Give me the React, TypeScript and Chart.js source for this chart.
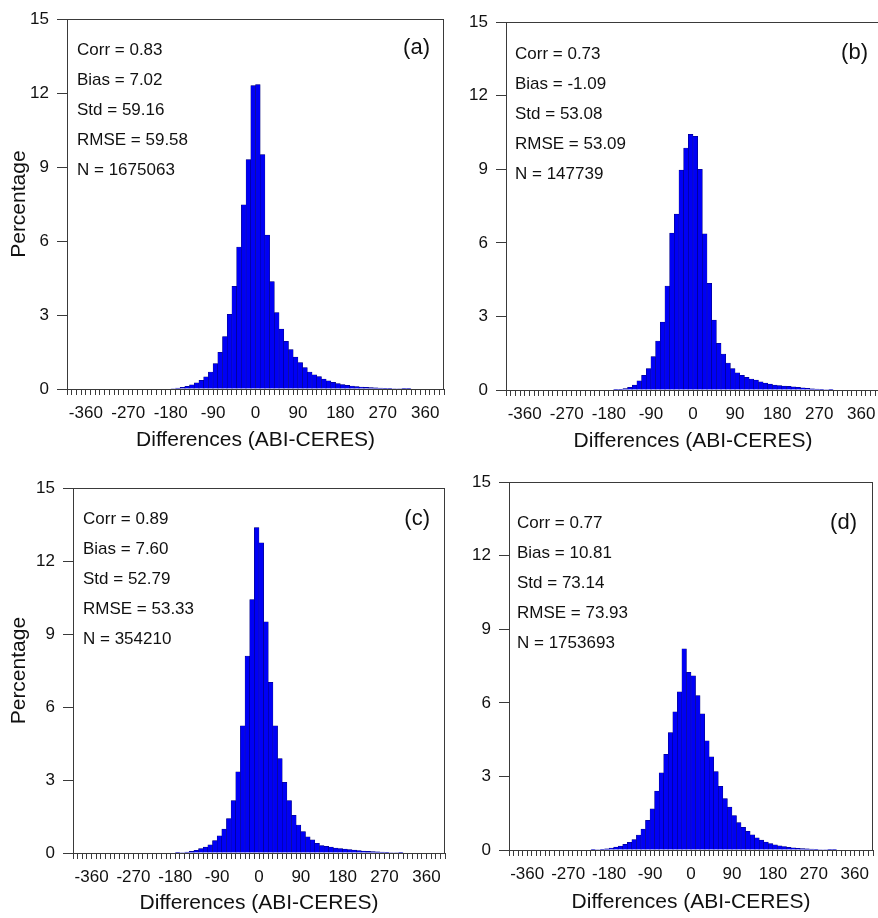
import { useEffect, useRef } from "react";
import { Chart, registerables } from "chart.js";

Chart.register(...registerables);

const FONT = "'Liberation Sans', Arial, Helvetica, sans-serif";
const AXIS_COLOR = "#3a3a3a";
const TEXT_COLOR = "#111111";

// Histogram bins: 10-unit wide, centred on ..., -15, -5, 5, 15, ...
const BIN_CENTERS = [
  -395, -385, -375, -365, -355, -345, -335, -325, -315, -305,
  -295, -285, -275, -265, -255, -245, -235, -225, -215, -205,
  -195, -185, -175, -165, -155, -145, -135, -125, -115, -105,
  -95, -85, -75, -65, -55, -45, -35, -25, -15, -5,
  5, 15, 25, 35, 45, 55, 65, 75, 85, 95,
  105, 115, 125, 135, 145, 155, 165, 175, 185, 195,
  205, 215, 225, 235, 245, 255, 265, 275, 285, 295,
  305, 315, 325, 335, 345, 355, 365, 375, 385, 395,
];

const X_TICK_LABELS = [-360, -270, -180, -90, 0, 90, 180, 270, 360];

// Percentage of samples per bin
const PCT_A = [
  0, 0, 0, 0, 0, 0, 0, 0, 0, 0,
  0, 0, 0, 0, 0, 0, 0, 0, 0, 0,
  0, 0, 0.02, 0.04, 0.07, 0.11, 0.17, 0.25, 0.35, 0.49,
  0.69, 1.03, 1.49, 2.13, 3.03, 4.16, 5.76, 7.47, 9.31, 12.31,
  12.35, 9.51, 6.24, 4.36, 3.1, 2.43, 1.93, 1.6, 1.29, 1.07,
  0.87, 0.69, 0.57, 0.5, 0.4, 0.33, 0.27, 0.22, 0.18, 0.15,
  0.12, 0.1, 0.08, 0.07, 0.06, 0.05, 0.04, 0.03, 0.03, 0.02,
  0.02, 0.01, 0.01, 0, 0, 0, 0, 0, 0, 0,
];

const PCT_B = [
  0, 0, 0, 0, 0, 0, 0, 0, 0, 0,
  0, 0, 0, 0, 0, 0, 0, 0, 0, 0,
  0, 0, 0, 0.01, 0.03, 0.06, 0.11, 0.2, 0.37, 0.6,
  0.87, 1.36, 2.0, 2.77, 4.24, 6.4, 7.17, 8.97, 9.87, 10.43,
  10.35, 9.0, 6.37, 4.35, 2.85, 1.9, 1.47, 1.1, 0.87, 0.7,
  0.6, 0.52, 0.45, 0.4, 0.33, 0.28, 0.24, 0.2, 0.18, 0.16,
  0.15, 0.13, 0.11, 0.09, 0.07, 0.05, 0.04, 0.03, 0.02, 0.01,
  0, 0, 0, 0, 0, 0, 0, 0, 0, 0,
];

const PCT_C = [
  0, 0, 0, 0, 0, 0, 0, 0, 0, 0,
  0, 0, 0, 0, 0, 0, 0, 0, 0, 0,
  0, 0, 0.01, 0.02, 0.04, 0.07, 0.11, 0.18, 0.24, 0.34,
  0.51, 0.71, 0.98, 1.42, 2.16, 3.34, 5.23, 8.1, 10.42, 13.38,
  12.75, 9.51, 7.02, 5.23, 3.88, 2.91, 2.16, 1.55, 1.15, 0.88,
  0.67, 0.54, 0.4, 0.31, 0.27, 0.24, 0.2, 0.18, 0.16, 0.14,
  0.12, 0.1, 0.08, 0.07, 0.06, 0.05, 0.04, 0.03, 0.02, 0.02,
  0.01, 0, 0, 0, 0, 0, 0, 0, 0, 0,
];

const PCT_D = [
  0, 0, 0, 0, 0, 0, 0, 0, 0, 0,
  0, 0, 0, 0, 0, 0, 0, 0, 0.01, 0.02,
  0.03, 0.05, 0.08, 0.12, 0.16, 0.23, 0.31, 0.43, 0.61, 0.85,
  1.21, 1.68, 2.4, 3.15, 3.9, 4.79, 5.64, 6.45, 8.2, 7.25,
  7.1, 6.3, 5.55, 4.45, 3.8, 3.2, 2.6, 2.1, 1.75, 1.4,
  1.12, 0.92, 0.76, 0.62, 0.5, 0.4, 0.32, 0.26, 0.21, 0.17,
  0.14, 0.11, 0.09, 0.07, 0.06, 0.05, 0.04, 0.03, 0.02, 0.02,
  0.01, 0.01, 0, 0, 0, 0, 0, 0, 0, 0,
];

const STATS_A = ["Corr = 0.83", "Bias = 7.02", "Std = 59.16", "RMSE = 59.58", "N = 1675063"];
const STATS_B = ["Corr = 0.73", "Bias = -1.09", "Std = 53.08", "RMSE = 53.09", "N = 147739"];
const STATS_C = ["Corr = 0.89", "Bias = 7.60", "Std = 52.79", "RMSE = 53.33", "N = 354210"];
const STATS_D = ["Corr = 0.77", "Bias = 10.81", "Std = 73.14", "RMSE = 73.93", "N = 1753693"];

type Layout = {
  plot: { l: number; t: number; r: number; b: number };
  canvasLeft: number;
  xTitleOff: number;
  yTitle: boolean;
  statDx: number;
  statDy: number;
  tagDx: number;
  tagDy: number;
};

type Panel = { tag: string; values: number[]; stats: string[]; layout: Layout };

const PANELS: Panel[] = [
  {
    tag: "(a)",
    values: PCT_A,
    stats: STATS_A,
    layout: { plot: { l: 67, t: 13, r: 444, b: 389 }, canvasLeft: 0, xTitleOff: 51, yTitle: true, statDx: 10, statDy: 31, tagDx: 14, tagDy: 29 },
  },
  {
    tag: "(b)",
    values: PCT_B,
    stats: STATS_B,
    layout: { plot: { l: 506, t: 16, r: 880, b: 390 }, canvasLeft: 446, xTitleOff: 51, yTitle: false, statDx: 9, statDy: 32, tagDx: 12, tagDy: 31 },
  },
  {
    tag: "(c)",
    values: PCT_C,
    stats: STATS_C,
    layout: { plot: { l: 73, t: 482, r: 445, b: 853 }, canvasLeft: 0, xTitleOff: 50, yTitle: true, statDx: 10, statDy: 31, tagDx: 15, tagDy: 31 },
  },
  {
    tag: "(d)",
    values: PCT_D,
    stats: STATS_D,
    layout: { plot: { l: 509, t: 476, r: 873, b: 850 }, canvasLeft: 449, xTitleOff: 52, yTitle: false, statDx: 8, statDy: 41, tagDx: 16, tagDy: 41 },
  },
];

const PAD_TOP = 12;
const PAD_RIGHT = 8;
const TICK_FONT = 17;
const TITLE_FONT = 21;

function Histogram({ panel }: { panel: Panel }) {
  const ref = useRef<HTMLCanvasElement>(null);
  const { plot, canvasLeft, xTitleOff, yTitle, statDx, statDy, tagDx, tagDy } = panel.layout;
  const yAxisWidth = plot.l - canvasLeft;
  const xAxisHeight = xTitleOff + 15;
  const width = yAxisWidth + (plot.r - plot.l) + PAD_RIGHT;
  const height = PAD_TOP + (plot.b - plot.t) + xAxisHeight;
  const titleHalf = (TITLE_FONT * 1.2) / 2;

  useEffect(() => {
    const canvas = ref.current;
    if (!canvas) return;

    const frame = {
      id: "frame",
      afterDraw(chart: any) {
        const { ctx, chartArea } = chart;
        ctx.save();
        ctx.strokeStyle = AXIS_COLOR;
        ctx.lineWidth = 1;
        ctx.strokeRect(
          Math.round(chartArea.left) + 0.5,
          Math.round(chartArea.top) + 0.5,
          Math.round(chartArea.right - chartArea.left) - 1,
          Math.round(chartArea.bottom - chartArea.top)
        );
        ctx.restore();
      },
    };

    const panelText = {
      id: "panelText",
      afterDraw(chart: any) {
        const { ctx, chartArea } = chart;
        ctx.save();
        ctx.fillStyle = TEXT_COLOR;
        ctx.textBaseline = "middle";
        ctx.textAlign = "left";
        ctx.font = `17px ${FONT}`;
        panel.stats.forEach((line, i) => {
          ctx.fillText(line, chartArea.left + statDx, chartArea.top + statDy + i * 30);
        });
        ctx.font = `22px ${FONT}`;
        ctx.textAlign = "right";
        ctx.fillText(panel.tag, chartArea.right - tagDx, chartArea.top + tagDy);
        ctx.restore();
      },
    };

    const chart = new Chart(canvas, {
      type: "bar",
      data: {
        datasets: [
          {
            data: BIN_CENTERS.map((x, i) => ({ x, y: panel.values[i] })),
            backgroundColor: "#0000F5",
            borderColor: "#00006e",
            borderWidth: 0.5,
            borderSkipped: "start",
            barPercentage: 1,
            categoryPercentage: 1,
          },
        ],
      },
      options: {
        responsive: false,
        animation: false,
        devicePixelRatio: 1,
        layout: { padding: { top: PAD_TOP, right: PAD_RIGHT, left: 0, bottom: 0 } },
        plugins: {
          legend: { display: false },
          tooltip: { enabled: false },
        },
        scales: {
          x: {
            type: "linear",
            min: -400,
            max: 400,
            offset: false,
            grid: {
              offset: false,
              drawOnChartArea: false,
              drawTicks: true,
              tickLength: 6,
              color: AXIS_COLOR,
            },
            border: { display: true, color: AXIS_COLOR, width: 1 },
            ticks: {
              stepSize: 10,
              maxTicksLimit: 200,
              autoSkip: false,
              maxRotation: 0,
              minRotation: 0,
              padding: 8,
              color: TEXT_COLOR,
              font: { family: FONT, size: TICK_FONT },
              callback: (v: any) => (X_TICK_LABELS.includes(Number(v)) ? String(v) : ""),
            },
            title: {
              display: true,
              text: "Differences (ABI-CERES)",
              color: TEXT_COLOR,
              font: { family: FONT, size: TITLE_FONT },
              padding: { top: 0, bottom: xAxisHeight - xTitleOff - titleHalf },
            },
            afterFit: (scale: any) => {
              scale.height = xAxisHeight;
            },
          },
          y: {
            type: "linear",
            min: 0,
            max: 15,
            grid: {
              drawOnChartArea: false,
              drawTicks: true,
              tickLength: 10,
              color: AXIS_COLOR,
            },
            border: { display: true, color: AXIS_COLOR, width: 1 },
            ticks: {
              stepSize: 3,
              padding: 8,
              color: TEXT_COLOR,
              font: { family: FONT, size: TICK_FONT },
            },
            title: {
              display: yTitle,
              text: "Percentage",
              color: TEXT_COLOR,
              font: { family: FONT, size: TITLE_FONT },
              padding: { top: 7, bottom: 0 },
            },
            afterFit: (scale: any) => {
              scale.width = yAxisWidth;
            },
          },
        },
      } as any,
      plugins: [frame, panelText],
    });

    return () => chart.destroy();
  }, []);

  return (
    <canvas
      ref={ref}
      width={width}
      height={height}
      style={{ position: "absolute", left: canvasLeft, top: plot.t - PAD_TOP, width, height }}
    />
  );
}

export default function App() {
  return (
    <div
      style={{
        position: "absolute",
        left: 0,
        top: 0,
        width: 878,
        height: 918,
        overflow: "hidden",
        background: "#ffffff",
      }}
    >
      {PANELS.map((p) => (
        <Histogram key={p.tag} panel={p} />
      ))}
    </div>
  );
}
